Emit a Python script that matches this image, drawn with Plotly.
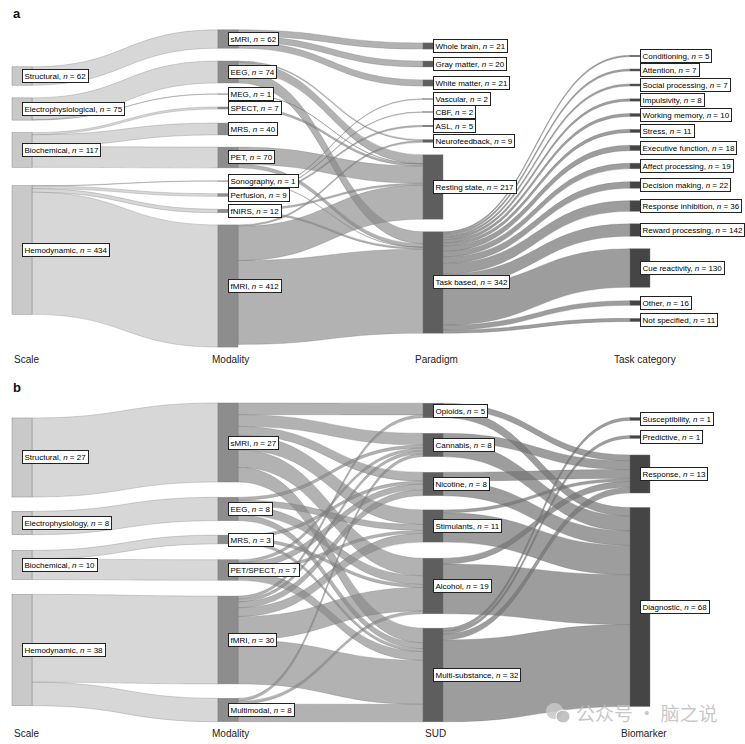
import plotly.graph_objects as go

FIG_W, FIG_H = 745, 744

# ================= Panel a data =================
a_scale = ["Structural", "Electrophysiological", "Biochemical", "Hemodynamic"]
a_scale_n = [62, 75, 117, 434]
a_modality = ["sMRI", "EEG", "MEG", "SPECT", "MRS", "PET", "Sonography", "Perfusion", "fNIRS", "fMRI"]
a_modality_n = [62, 74, 1, 7, 40, 70, 1, 9, 12, 412]
a_paradigm = ["Whole brain", "Gray matter", "White matter", "Vascular", "CBF", "ASL",
              "Neurofeedback", "Resting state", "Task based"]
a_paradigm_n = [21, 20, 21, 2, 2, 5, 9, 217, 342]
a_task = ["Conditioning", "Attention", "Social processing", "Impulsivity", "Working memory", "Stress",
          "Executive function", "Affect processing", "Decision making", "Response inhibition",
          "Reward processing", "Cue reactivity", "Other", "Not specified"]
a_task_n = [5, 7, 7, 8, 10, 11, 18, 19, 22, 36, 142, 130, 16, 11]

a_scale_modality_links = [
    ("Structural", "sMRI", 62),
    ("Electrophysiological", "EEG", 74), ("Electrophysiological", "MEG", 1),
    ("Biochemical", "SPECT", 7), ("Biochemical", "MRS", 40), ("Biochemical", "PET", 70),
    ("Hemodynamic", "Sonography", 1), ("Hemodynamic", "Perfusion", 9),
    ("Hemodynamic", "fNIRS", 12), ("Hemodynamic", "fMRI", 412),
]
a_modality_paradigm_links = [
    ("sMRI", "Whole brain", 21), ("sMRI", "Gray matter", 20), ("sMRI", "White matter", 21),
    ("EEG", "Neurofeedback", 4), ("EEG", "Resting state", 30), ("EEG", "Task based", 40),
    ("MEG", "Resting state", 1),
    ("SPECT", "Resting state", 7),
    ("PET", "Resting state", 58), ("PET", "Task based", 12),
    ("Sonography", "Task based", 1),
    ("Perfusion", "Vascular", 2), ("Perfusion", "CBF", 2), ("Perfusion", "ASL", 5),
    ("fNIRS", "Resting state", 6), ("fNIRS", "Task based", 6),
    ("fMRI", "Neurofeedback", 5), ("fMRI", "Resting state", 115), ("fMRI", "Task based", 283),
]
a_task_flow = [5, 7, 7, 8, 10, 11, 18, 19, 22, 36, 42, 130, 16, 11]  # Task based -> category

# ================= Panel b data =================
b_scale = ["Structural", "Electrophysiology", "Biochemical", "Hemodynamic"]
b_scale_n = [27, 8, 10, 38]
b_modality = ["sMRI", "EEG", "MRS", "PET/SPECT", "fMRI", "Multimodal"]
b_modality_n = [27, 8, 3, 7, 30, 8]
b_sud = ["Opioids", "Cannabis", "Nicotine", "Stimulants", "Alcohol", "Multi-substance"]
b_sud_n = [5, 8, 8, 11, 19, 32]
b_biomarker = ["Susceptibility", "Predictive", "Response", "Diagnostic"]
b_biomarker_n = [1, 1, 13, 68]

b_scale_modality_links = [
    ("Structural", "sMRI", 27), ("Electrophysiology", "EEG", 8),
    ("Biochemical", "MRS", 3), ("Biochemical", "PET/SPECT", 7),
    ("Hemodynamic", "fMRI", 30), ("Hemodynamic", "Multimodal", 8),
]
b_modality_sud_links = [
    ("sMRI", "Opioids", 4), ("sMRI", "Cannabis", 4), ("sMRI", "Nicotine", 3),
    ("sMRI", "Stimulants", 5), ("sMRI", "Alcohol", 6), ("sMRI", "Multi-substance", 5),
    ("EEG", "Cannabis", 1), ("EEG", "Stimulants", 2), ("EEG", "Alcohol", 3), ("EEG", "Multi-substance", 2),
    ("MRS", "Nicotine", 1), ("MRS", "Alcohol", 1), ("MRS", "Multi-substance", 1),
    ("PET/SPECT", "Cannabis", 1), ("PET/SPECT", "Nicotine", 2), ("PET/SPECT", "Stimulants", 1),
    ("PET/SPECT", "Multi-substance", 3),
    ("fMRI", "Opioids", 1), ("fMRI", "Cannabis", 1), ("fMRI", "Nicotine", 2), ("fMRI", "Stimulants", 3),
    ("fMRI", "Alcohol", 8), ("fMRI", "Multi-substance", 15),
    ("Multimodal", "Cannabis", 1), ("Multimodal", "Alcohol", 1), ("Multimodal", "Multi-substance", 6),
]
b_sud_biomarker_links = [
    ("Opioids", "Response", 2), ("Opioids", "Diagnostic", 3),
    ("Cannabis", "Response", 3), ("Cannabis", "Diagnostic", 5),
    ("Nicotine", "Response", 3), ("Nicotine", "Diagnostic", 5),
    ("Stimulants", "Response", 1), ("Stimulants", "Diagnostic", 10),
    ("Alcohol", "Response", 2), ("Alcohol", "Diagnostic", 17),
    ("Multi-substance", "Susceptibility", 1), ("Multi-substance", "Predictive", 1),
    ("Multi-substance", "Response", 2), ("Multi-substance", "Diagnostic", 28),
]

# ================= Layout (pixel geometry) =================
X_LEFT, X_RIGHT = 12, 650
COL_X = [22, 228, 433, 640]          # node column centres (px)
THICK = 20

a_band = (30, 346.5)
b_band = (403, 722)
a_pad, b_pad = 12.5, 15.2

# node centres (px) per column, in the order of the name lists
a_centres = [
    [76, 109, 150, 250],
    [39, 72, 94, 108, 129, 157.5, 181, 195, 211, 286],
    [46, 64, 83, 99, 112, 126, 141, 187, 282.5],
    [56, 70, 85, 100, 115, 131, 148, 166, 185, 206, 230, 268, 303, 320],
]
b_centres = [
    [457.5, 523, 565, 650],
    [442.5, 509, 539.5, 570, 640, 710],
    [410.5, 445, 484, 526, 586, 675],
    [419, 437, 474, 607],
]

NODE_COLS = ["#c9c9c9", "#8d8d8d", "#5e5e5e", "#454545"]
LINK_COLS = ["rgba(200,200,200,0.72)", "rgba(135,135,135,0.64)", "rgba(115,115,115,0.70)"]
LABEL_FONT = dict(family="Liberation Sans, Arial", size=8, color="#000")


def px_x(x):
    return x / FIG_W


def px_y(y):
    return 1 - y / FIG_H


def build(columns, counts, link_groups, centres, band, pad):
    names, xs, ys, cols = [], [], [], []
    idx = {}
    H = band[1] - band[0]
    Wd = X_RIGHT - X_LEFT
    for c, col in enumerate(columns):
        for j, nm in enumerate(col):
            idx[(c, nm)] = len(names)
            names.append(nm)
            xs.append((COL_X[c] - X_LEFT) / Wd)
            ys.append((centres[c][j] - band[0]) / H)
            cols.append(NODE_COLS[c])
    src, tgt, val, lcol = [], [], [], []
    for g, links in enumerate(link_groups):
        for s, t, v in links:
            src.append(idx[(g, s)])
            tgt.append(idx[(g + 1, t)])
            val.append(v)
            lcol.append(LINK_COLS[g])
    trace = go.Sankey(
        arrangement="fixed",
        domain=dict(x=[px_x(X_LEFT), px_x(X_RIGHT)], y=[px_y(band[1]), px_y(band[0])]),
        node=dict(label=[""] * len(names), x=xs, y=ys, pad=pad, thickness=THICK, align="left",
                  color=cols, line=dict(color="rgba(120,120,120,0.8)", width=0.5),
                  hoverinfo="skip"),
        link=dict(source=src, target=tgt, value=val, color=lcol,
                  line=dict(color="rgba(110,110,110,0.55)", width=0.5), hoverinfo="skip"),
    )
    anns = []
    for c, col in enumerate(columns):
        for j, nm in enumerate(col):
            anns.append(dict(
                x=px_x(COL_X[c]), y=px_y(centres[c][j]), xref="paper", yref="paper",
                xanchor="left", yanchor="middle", showarrow=False,
                text=f"{nm}, <i>n</i> = {counts[c][j]}",
                font=LABEL_FONT,
                bgcolor="white", bordercolor="#222", borderwidth=1, borderpad=1.5,
            ))
    return trace, anns


tr_a, ann_a = build([a_scale, a_modality, a_paradigm, a_task],
                    [a_scale_n, a_modality_n, a_paradigm_n, a_task_n],
                    [a_scale_modality_links, a_modality_paradigm_links,
                     [("Task based", t, v) for t, v in zip(a_task, a_task_flow)]],
                    a_centres, a_band, a_pad)
tr_b, ann_b = build([b_scale, b_modality, b_sud, b_biomarker],
                    [b_scale_n, b_modality_n, b_sud_n, b_biomarker_n],
                    [b_scale_modality_links, b_modality_sud_links, b_sud_biomarker_links],
                    b_centres, b_band, b_pad)

fig = go.Figure([tr_a, tr_b])

headers_a = [("Scale", 12), ("Modality", 210), ("Paradigm", 413), ("Task category", 612)]
headers_b = [("Scale", 12), ("Modality", 210), ("SUD", 423), ("Biomarker", 619)]
hdr = []
for txt, x in headers_a:
    hdr.append(dict(x=px_x(x), y=px_y(359), text=txt))
for txt, x in headers_b:
    hdr.append(dict(x=px_x(x), y=px_y(733), text=txt))
for h in hdr:
    h.update(xref="paper", yref="paper", xanchor="left", yanchor="middle", showarrow=False,
             font=dict(family="Liberation Sans, Arial", size=10, color="#222"))

letters = [dict(x=px_x(11), y=px_y(14), text="<b>a</b>"),
           dict(x=px_x(11), y=px_y(387), text="<b>b</b>")]
for l in letters:
    l.update(xref="paper", yref="paper", xanchor="left", yanchor="middle", showarrow=False,
             font=dict(family="Liberation Sans, Arial", size=13, color="#111"))

watermark = dict(x=px_x(574), y=px_y(712), xref="paper", yref="paper", showarrow=False,
                 xanchor="left", yanchor="middle", text="公众号 · 脑之说",
                 font=dict(family="Noto Sans CJK SC", size=19, color="rgba(190,190,190,0.85)"))

# watermark icon (decorative)
icon = [
    dict(type="circle", xref="paper", yref="paper",
         x0=px_x(546), x1=px_x(563), y0=px_y(719), y1=px_y(703),
         fillcolor="rgba(200,200,200,0.85)", line=dict(width=0)),
    dict(type="circle", xref="paper", yref="paper",
         x0=px_x(556), x1=px_x(570), y0=px_y(723), y1=px_y(710),
         fillcolor="rgba(185,185,185,0.85)", line=dict(color="white", width=1)),
]

fig.update_layout(
    width=FIG_W, height=FIG_H,
    margin=dict(l=0, r=0, t=0, b=0),
    paper_bgcolor="white", plot_bgcolor="white",
    annotations=ann_a + ann_b + hdr + letters + [watermark],
    shapes=icon,
)

fig.write_html("out.html", config={"displayModeBar": False},
               post_script="document.body.style.margin='0';document.body.style.overflow='hidden';")
